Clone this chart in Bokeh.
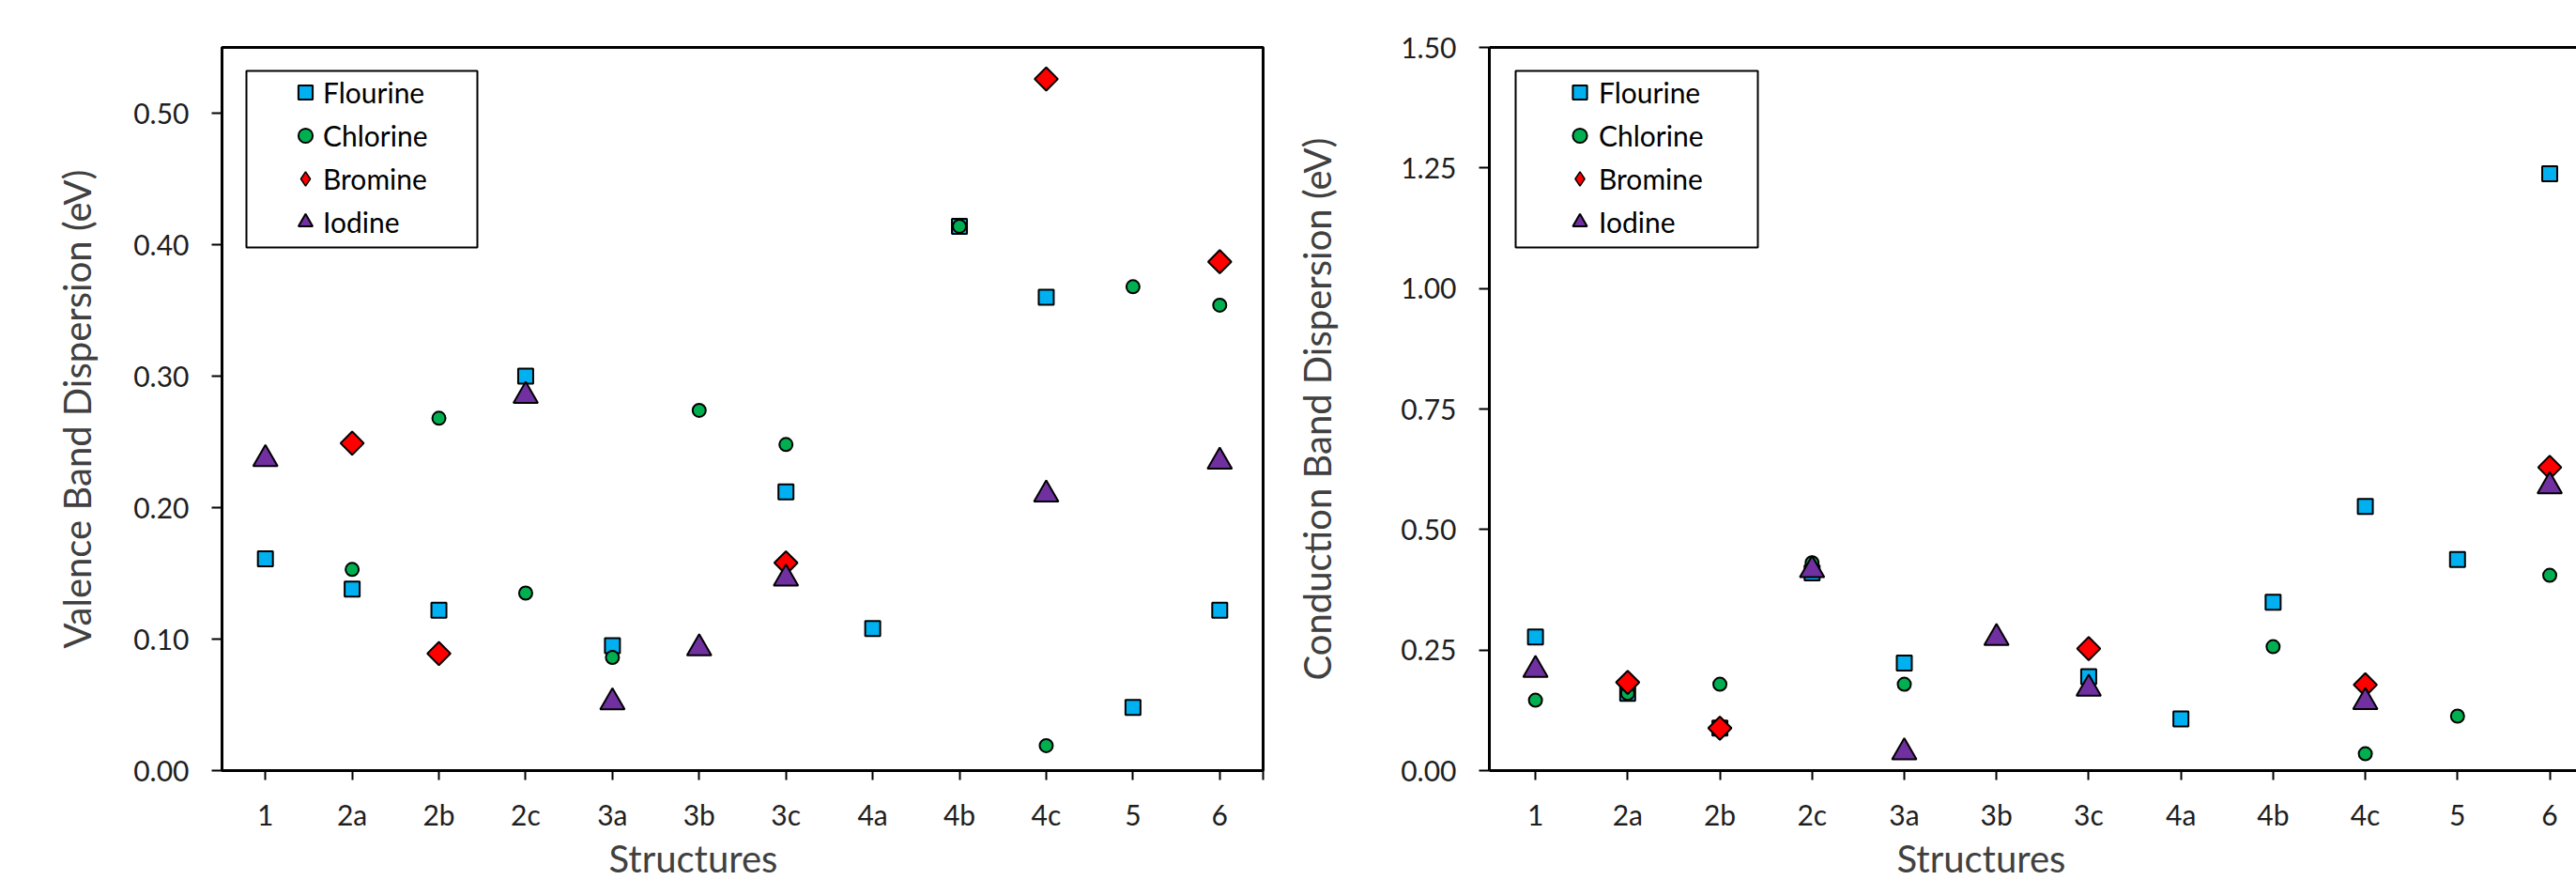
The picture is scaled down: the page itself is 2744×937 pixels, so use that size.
import math
from bokeh.plotting import figure
from bokeh.models import (ColumnDataSource, FixedTicker, NumeralTickFormatter, Legend,
                          LegendItem, LinearAxis, Range1d, Title, BoxAnnotation)
from bokeh.layouts import row
from bokeh.embed import file_html
from bokeh.resources import INLINE

# ---------------- data ----------------
structures = ["1", "2a", "2b", "2c", "3a", "3b", "3c", "4a", "4b", "4c", "5", "6"]

series_names = ["Flourine", "Chlorine", "Bromine", "Iodine"]

# Valence band dispersion (eV)
vb_flourine = [0.161, 0.138, 0.122, 0.300, 0.095, None, 0.212, 0.108, 0.414, 0.360, 0.048, 0.122]
vb_chlorine = [None, 0.153, 0.268, 0.135, 0.086, 0.274, 0.248, None, 0.414, 0.019, 0.368, 0.354]
vb_bromine = [None, 0.249, 0.089, None, None, None, 0.158, None, None, 0.526, None, 0.387]
vb_iodine = [0.237, None, None, 0.285, 0.052, 0.093, 0.146, None, None, 0.210, None, 0.235]

# Conduction band dispersion (eV)
cb_flourine = [0.277, 0.160, 0.088, 0.410, 0.223, None, 0.195, 0.107, 0.349, 0.548, 0.438, 1.238]
cb_chlorine = [0.146, 0.160, 0.179, 0.431, 0.179, None, None, None, 0.257, 0.035, 0.113, 0.405]
cb_bromine = [None, 0.183, 0.088, None, None, None, 0.253, None, None, 0.178, None, 0.629]
cb_iodine = [0.209, None, None, 0.416, 0.038, 0.275, 0.170, None, None, 0.142, None, 0.590]

vb_ticks = [0.0, 0.1, 0.2, 0.3, 0.4, 0.5]
cb_ticks = [0.0, 0.25, 0.5, 0.75, 1.0, 1.25, 1.5]

# ---------------- styles ----------------
FONT = "Lato"
colors = ["#00B0F0", "#00B050", "#FF0000", "#7030A0"]
markers = ["square", "circle", "square", "triangle"]
legend_markers = ["square", "circle", "diamond", "triangle"]
sizes = [16, 14, 17.5, 26]
angles = [0.0, 0.0, math.pi / 4, 0.0]

FRAME_TOP = 50
FRAME_BOTTOM_PAD = 117
HEIGHT = 937
FRAME_H = HEIGHT - FRAME_TOP - FRAME_BOTTOM_PAD


def make_chart(series, ticks, ymax, width, border_left, border_right, xend,
               ytitle, ytitle_standoff, xtitle_offset,
               box_left, box_w, marker_dx, leg_gw, full_box):
    frame_w = width - border_left - border_right
    xstart = 0.5
    p = figure(width=width, height=HEIGHT, x_range=Range1d(xstart, xend),
               y_range=Range1d(0, ymax), output_backend="svg", toolbar_location=None,
               min_border_left=border_left, min_border_right=border_right,
               min_border_top=FRAME_TOP, min_border_bottom=FRAME_BOTTOM_PAD)
    p.grid.visible = False
    p.background_fill_color = "white"
    p.border_fill_color = "white"

    xa = p.below[0]
    ya = p.left[0]

    xpos = [i + 1 for i in range(len(structures))]
    xt = list(xpos) + ([12.5] if full_box else [])
    overrides = {float(i + 1): s for i, s in enumerate(structures)}
    if full_box:
        overrides[12.5] = ""
    xa.ticker = FixedTicker(ticks=xt)
    xa.major_label_overrides = overrides
    ya.ticker = FixedTicker(ticks=ticks)
    ya.formatter = NumeralTickFormatter(format="0.00")
    for ax in (xa, ya):
        ax.axis_line_width = 3
        ax.axis_line_color = "black"
        ax.major_tick_line_width = 2
        ax.major_tick_line_color = "black"
        ax.major_tick_in = 0
        ax.minor_tick_line_color = None
        ax.major_label_text_font = FONT
        ax.major_label_text_font_size = "30px"
        ax.major_label_text_color = "#1e1e1e"
    xa.major_tick_out = 10
    xa.major_label_standoff = 18
    ya.major_tick_out = 11
    ya.major_label_standoff = 24
    ya.axis_label = ytitle
    ya.axis_label_text_font = FONT
    ya.axis_label_text_font_size = "40px"
    ya.axis_label_text_font_style = "normal"
    ya.axis_label_text_color = "#404040"
    ya.axis_label_standoff = ytitle_standoff

    if full_box:
        p.outline_line_color = "black"
        p.outline_line_width = 3
    else:
        p.outline_line_color = None
        top = LinearAxis(ticker=FixedTicker(ticks=[]), axis_line_width=3,
                         axis_line_color="black", major_tick_line_color=None,
                         minor_tick_line_color=None, major_label_text_font_size="0px",
                         major_label_standoff=0, major_tick_out=0)
        p.add_layout(top, "above")

    p.add_layout(Title(text="Structures", align="left", offset=xtitle_offset, standoff=0,
                       text_font=FONT, text_font_size="40px", text_font_style="normal",
                       text_color="#404040"), "below")

    items = []
    for name, vals, c, m, lm, s, a in zip(series_names, series, colors, markers,
                                          legend_markers, sizes, angles):
        xs = [x for x, v in zip(xpos, vals) if v is not None]
        ys = [v for v in vals if v is not None]
        src = ColumnDataSource(dict(x=xs, y=ys))
        if lm != m:
            # same points, un-rotated diamond drawn underneath (hidden); used as legend swatch
            r_leg = p.scatter("x", "y", source=src, marker=lm, size=s + 2, fill_color=c,
                              line_color="black", line_width=1.5)
        r = p.scatter("x", "y", source=src, marker=m, size=s, angle=a,
                      fill_color=c, line_color="black", line_width=2)
        items.append(LegendItem(label=name, renderers=[r_leg if lm != m else r]))

    # legend frame (pixel layout converted to data space)
    px_x = (xend - xstart) / frame_w
    px_y = ymax / FRAME_H
    box_top, box_h = 25, 188
    p.add_layout(BoxAnnotation(left=xstart + box_left * px_x,
                               right=xstart + (box_left + box_w) * px_x,
                               top=ymax - box_top * px_y,
                               bottom=ymax - (box_top + box_h) * px_y,
                               fill_color="white", fill_alpha=1.0,
                               line_color="black", line_width=2, line_alpha=1.0))

    gh, sp = 38, 8
    first_center = box_top + 23
    leg_top = first_center - gh / 2
    leg_h = 4 * gh + 3 * sp
    leg_left = box_left + marker_dx - leg_gw / 2
    leg = Legend(items=items,
                 location=(int(round(leg_left)), int(round(FRAME_H - leg_top - leg_h))),
                 padding=0, spacing=sp, glyph_height=gh, glyph_width=leg_gw,
                 label_standoff=0, margin=0,
                 label_text_font=FONT, label_text_font_size="30px",
                 label_text_color="black", border_line_color=None,
                 background_fill_alpha=0.0)
    p.add_layout(leg)
    return p


W1 = 1370
p1 = make_chart([vb_flourine, vb_chlorine, vb_bromine, vb_iodine], vb_ticks, 0.55,
                W1, 236, W1 - 1345, 12.5,
                "Valence Band Dispersion (eV)", 33, 412,
                26, 246, 63, 38, True)
p2 = make_chart([cb_flourine, cb_chlorine, cb_bromine, cb_iodine], cb_ticks, 1.5,
                2744 - W1, 1586 - W1, 0, 12.29,
                "Conduction Band Dispersion (eV)", 62, 434,
                28, 258, 68, 41, False)

layout = row(p1, p2)
open("out.html", "w").write(file_html(layout, INLINE))
